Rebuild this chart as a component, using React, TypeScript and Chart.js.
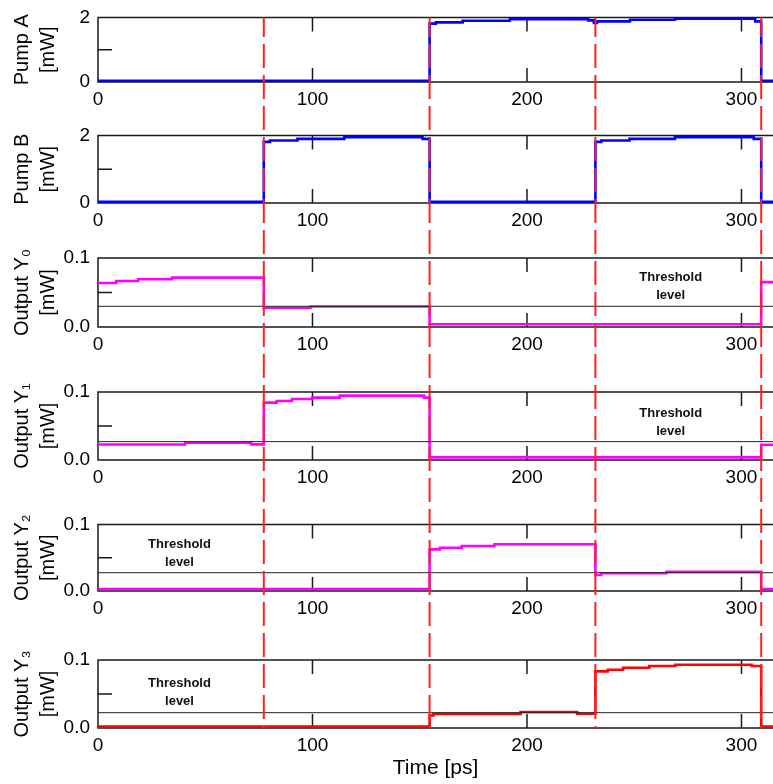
import React, { useEffect, useRef } from 'react';
import { Chart, registerables } from 'chart.js';
Chart.register(...registerables);

// ---------- data ----------
const xMin = 0;
const xMax = 314.7;
const xTickValues = [0, 100, 200, 300];
const clockEdges = [77.3, 154.6, 231.9, 309.2];

const pumpYTicks = [0, 1, 2];
const pumpYLabels = ['0', '', '2'];
const outYTicks = [0, 0.05, 0.1];
const outYLabels = ['0.0', '', '0.1'];

const pumpATime = [0, 154.6, 157.5, 170, 192, 228.5, 231.2, 232.6, 248, 269, 306.4, 309.2, 314.7];
const pumpAValue = [0.035, 1.81, 1.85, 1.9, 1.95, 1.91, 1.83, 1.88, 1.93, 1.96, 1.88, 0.035, 0.035];

const pumpBTime = [0, 77.3, 80.2, 93, 114.8, 151.3, 154.6, 231.9, 234.6, 247.8, 269, 305.7, 309.2, 314.7];
const pumpBValue = [0.035, 1.81, 1.85, 1.9, 1.95, 1.9, 0.035, 1.81, 1.85, 1.9, 1.95, 1.9, 0.035, 0.035];

const y0Time = [0, 8.5, 18.7, 34.5, 77.3, 99.1, 154.6, 309.2, 314.7];
const y0Value = [0.0638, 0.0667, 0.0691, 0.0715, 0.028, 0.0298, 0.0039, 0.065, 0.065];

const y1Time = [0, 40.6, 71.5, 77.3, 83.3, 90.4, 99.9, 112.7, 152, 154.6, 309.2, 314.7];
const y1Value = [0.0229, 0.0254, 0.023, 0.0844, 0.0868, 0.0898, 0.0917, 0.0946, 0.0917, 0.0039, 0.0224, 0.0224];

const y2Time = [0, 154.6, 159.4, 169.6, 184.8, 231.9, 234.6, 265, 309.2, 314.7];
const y2Value = [0.003, 0.0626, 0.0651, 0.0677, 0.0703, 0.024, 0.0267, 0.0287, 0.003, 0.003];

const y3Time = [0, 154.6, 156.4, 197, 223.4, 231.9, 237.7, 244.8, 257, 269.1, 304.7, 309.2, 314.7];
const y3Value = [0.002, 0.0183, 0.0208, 0.0235, 0.021, 0.0832, 0.0856, 0.0886, 0.0911, 0.0931, 0.0911, 0.002, 0.002];

const thresholds = [null, null, 0.03, 0.027, 0.0275, 0.0225];
const thresholdLabelX = [0, 0, 267, 267, 38, 38];
const thresholdLabelY = [0, 0, 0.0594, 0.055, 0.057, 0.0525];
const thresholdLabelLines = ['Threshold', 'level'];

// ---------- layout ----------
const FONT = "'Liberation Sans', Arial, Helvetica, sans-serif";
const W = 773;
const PLOT_LEFT = 98;
const panelTop = [13, 134, 258, 392, 524.5, 660];
const panelBottom = [82, 203, 327, 460, 591, 728];
const bandEdges = [0, 118, 240, 372, 505, 640, 784];
const FRAME = '#1a1a1a';

const panels = [
  { title: ['Pump A', '[mW]'], t: pumpATime, v: pumpAValue, color: '#0000ff', yMax: 2, yTicks: pumpYTicks, yLabels: pumpYLabels },
  { title: ['Pump B', '[mW]'], t: pumpBTime, v: pumpBValue, color: '#0000ff', yMax: 2, yTicks: pumpYTicks, yLabels: pumpYLabels },
  { title: ['Output Y\u2080', '[mW]'], t: y0Time, v: y0Value, color: '#ff00ff', yMax: 0.1, yTicks: outYTicks, yLabels: outYLabels },
  { title: ['Output Y\u2081', '[mW]'], t: y1Time, v: y1Value, color: '#ff00ff', yMax: 0.1, yTicks: outYTicks, yLabels: outYLabels },
  { title: ['Output Y\u2082', '[mW]'], t: y2Time, v: y2Value, color: '#ff00ff', yMax: 0.1, yTicks: outYTicks, yLabels: outYLabels },
  { title: ['Output Y\u2083', '[mW]'], t: y3Time, v: y3Value, color: '#ff0000', yMax: 0.1, yTicks: outYTicks, yLabels: outYLabels },
];

const decorPlugin = {
  id: 'decor',
  beforeDatasetsDraw(chart: any, _a: any, opts: any) {
    const { ctx, chartArea: a, scales } = chart;
    const x = scales.x;
    const y = scales.y;
    ctx.save();
    ctx.strokeStyle = FRAME;
    ctx.lineWidth = 1.5;
    ctx.beginPath();
    ctx.moveTo(a.right + 2, a.top);
    ctx.lineTo(a.left, a.top);
    ctx.lineTo(a.left, a.bottom);
    ctx.lineTo(a.right + 2, a.bottom);
    for (const v of xTickValues) {
      if (v === xMin) continue;
      const px = x.getPixelForValue(v);
      ctx.moveTo(px, a.bottom);
      ctx.lineTo(px, a.bottom - 14);
      ctx.moveTo(px, a.top);
      ctx.lineTo(px, a.top + 14);
    }
    const py = y.getPixelForValue(opts.midTick);
    ctx.moveTo(a.left, py);
    ctx.lineTo(a.left + 14, py);
    ctx.stroke();
    ctx.restore();
  },
  afterDatasetsDraw(chart: any, _a: any, opts: any) {
    const { ctx, chartArea: a, scales } = chart;
    const x = scales.x;
    const y = scales.y;
    ctx.save();
    if (opts.labelX != null) {
      ctx.font = `bold 13px ${FONT}`;
      ctx.fillStyle = '#111';
      ctx.textAlign = 'center';
      ctx.textBaseline = 'middle';
      const cx = x.getPixelForValue(opts.labelX);
      const cy = y.getPixelForValue(opts.labelY);
      ctx.fillText(thresholdLabelLines[0], cx, cy - 9);
      ctx.fillText(thresholdLabelLines[1], cx, cy + 9);
    }
    ctx.strokeStyle = '#ff2020';
    ctx.lineWidth = 2;
    ctx.setLineDash([24, 7]);
    const y0 = opts.first ? a.top : 0;
    const y1 = opts.last ? a.bottom : chart.height;
    ctx.lineDashOffset = opts.pageTop + y0 - panelTop[0];
    for (const e of clockEdges) {
      const px = x.getPixelForValue(e);
      ctx.beginPath();
      ctx.moveTo(px, y0);
      ctx.lineTo(px, y1);
      ctx.stroke();
    }
    ctx.restore();
  },
};

export default function App() {
  const refs = useRef<(HTMLCanvasElement | null)[]>([]);

  useEffect(() => {
    const charts = panels.map((p, i) => {
      const canvas = refs.current[i]!;
      const bandTop = bandEdges[i];
      const h = bandEdges[i + 1] - bandEdges[i];
      const padTop = panelTop[i] - bandTop;
      const bottomRel = panelBottom[i] - bandTop;
      const xh = h - bottomRel;
      const isLast = i === panels.length - 1;
      const thr = thresholds[i];
      const datasets: any[] = [];
      if (thr != null) {
        datasets.push({
          data: [{ x: xMin, y: thr }, { x: xMax, y: thr }],
          borderColor: '#222',
          borderWidth: 1,
          pointRadius: 0,
        });
      }
      datasets.push({
        data: p.t.map((t, k) => ({ x: t, y: p.v[k] })),
        borderColor: p.color,
        borderWidth: 2.6,
        pointRadius: 0,
        stepped: true,
        borderJoinStyle: 'miter',
      });
      return new Chart(canvas, {
        type: 'line',
        data: { datasets },
        options: {
          animation: false,
          responsive: false,
          events: [],
          layout: { padding: { top: padTop, left: 0, right: 0, bottom: 0 } },
          plugins: {
            legend: { display: false },
            tooltip: { enabled: false },
            decor: {
              midTick: p.yTicks[1],
              first: i === 0,
              last: isLast,
              pageTop: bandTop,
              labelX: thr != null ? thresholdLabelX[i] : null,
              labelY: thresholdLabelY[i],
            },
          } as any,
          scales: {
            x: {
              type: 'linear',
              min: xMin,
              max: xMax,
              afterBuildTicks: (s: any) => {
                s.ticks = xTickValues.map((v) => ({ value: v }));
              },
              afterFit: (s: any) => {
                s.height = xh;
              },
              grid: { display: false, drawTicks: false },
              border: { display: false },
              ticks: {
                autoSkip: false,
                maxRotation: 0,
                padding: 6,
                color: '#000',
                font: { family: FONT, size: 19 },
                callback: (v: any) => String(v),
              },
              title: {
                display: isLast,
                text: 'Time [ps]',
                color: '#000',
                font: { family: FONT, size: 21 },
                padding: { top: 0, bottom: 3 },
              },
            },
            y: {
              type: 'linear',
              min: 0,
              max: p.yMax,
              afterBuildTicks: (s: any) => {
                s.ticks = p.yTicks.map((v) => ({ value: v }));
              },
              afterFit: (s: any) => {
                s.width = PLOT_LEFT;
              },
              grid: { display: false, drawTicks: false },
              border: { display: false },
              ticks: {
                autoSkip: false,
                padding: 8,
                color: '#000',
                font: { family: FONT, size: 19, lineHeight: 1 },
                callback: (_v: any, idx: number) => p.yLabels[idx],
              },
              title: {
                display: true,
                text: p.title,
                color: '#000',
                font: { family: FONT, size: 20, lineHeight: 1.3 },
                padding: { top: 9, bottom: 0 },
              },
            },
          },
        },
        plugins: [decorPlugin],
      } as any);
    });
    return () => charts.forEach((c) => c.destroy());
  }, []);

  return (
    <div style={{ position: 'absolute', left: 0, top: 0, width: W, height: 784, overflow: 'hidden', background: '#fff' }}>
      {panels.map((_, i) => (
        <canvas
          key={i}
          ref={(el) => {
            refs.current[i] = el;
          }}
          width={W}
          height={bandEdges[i + 1] - bandEdges[i]}
          style={{ position: 'absolute', left: 0, top: bandEdges[i], width: W, height: bandEdges[i + 1] - bandEdges[i], display: 'block' }}
        />
      ))}
    </div>
  );
}
